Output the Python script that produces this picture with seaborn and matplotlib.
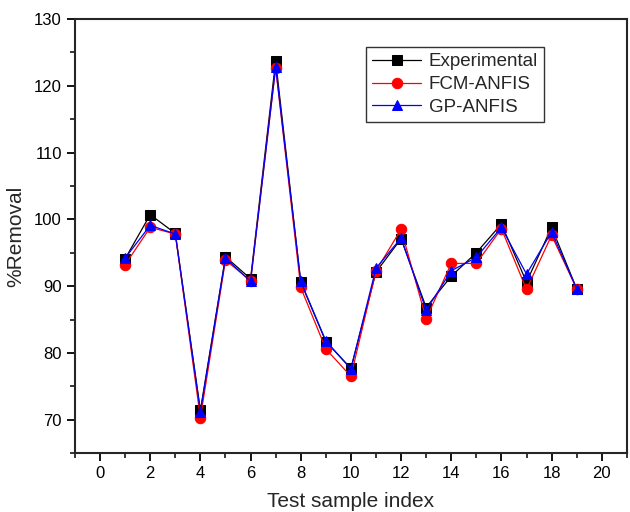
import matplotlib
matplotlib.use("Agg")
import matplotlib.pyplot as plt
import seaborn as sns
import numpy as np
from matplotlib.ticker import MultipleLocator

sample_index = list(range(1, 20))
experimental = [94.1, 100.7, 97.9, 71.4, 94.4, 91.1, 123.7, 90.6, 81.7, 77.7, 92.1, 97.1, 86.8, 91.5, 95.0, 99.3, 90.6, 98.8, 89.6]
fcm_anfis =    [93.2, 98.8, 97.8, 70.3, 93.9, 90.8, 122.7, 89.8, 80.6, 76.5, 92.3, 98.5, 85.1, 93.4, 93.4, 98.6, 89.5, 97.6, 89.6]
gp_anfis =     [94.2, 99.1, 97.8, 71.2, 94.2, 90.7, 122.8, 90.7, 81.8, 77.6, 92.7, 97.2, 86.4, 92.3, 94.3, 98.8, 91.8, 98.1, 89.6]

sns.set_style("ticks")
plt.rcParams['font.family'] = ['Liberation Sans', 'DejaVu Sans']

fig = plt.figure(figsize=(6.3, 5.12), dpi=100)
ax = fig.add_axes([0.119, 0.115, 0.876, 0.848])

series = [("Experimental", experimental, "black", "s"),
          ("FCM-ANFIS", fcm_anfis, "red", "o"),
          ("GP-ANFIS", gp_anfis, "blue", "^")]
for name, vals, col, mk in series:
    sns.lineplot(x=sample_index, y=vals, ax=ax, color=col, marker=mk, markersize=7.5,
                 markeredgecolor=col, linewidth=0.9, label=name)

ax.set_xlim(-1, 21)
ax.set_ylim(65, 130)
ax.xaxis.set_major_locator(MultipleLocator(2))
ax.xaxis.set_minor_locator(MultipleLocator(1))
ax.yaxis.set_major_locator(MultipleLocator(10))
ax.yaxis.set_minor_locator(MultipleLocator(5))
ax.tick_params(which='major', direction='out', length=6, width=1.3, labelsize=12, colors='black')
ax.tick_params(which='minor', direction='out', length=3.5, width=1.3)
for s in ax.spines.values():
    s.set_linewidth(1.5)
    s.set_visible(True)
ax.set_xlabel("Test sample index", fontsize=15, labelpad=8)
ax.set_ylabel("%Removal", fontsize=15, labelpad=6)

leg = ax.legend(loc='upper left', bbox_to_anchor=(0.527, 0.936), fontsize=13.5, frameon=True,
                fancybox=False, edgecolor='black', handlelength=2.6, borderpad=0.35,
                labelspacing=0.3, handletextpad=0.4, borderaxespad=0)
leg.get_frame().set_linewidth(1.0)

fig.savefig("out.png", dpi=100)
